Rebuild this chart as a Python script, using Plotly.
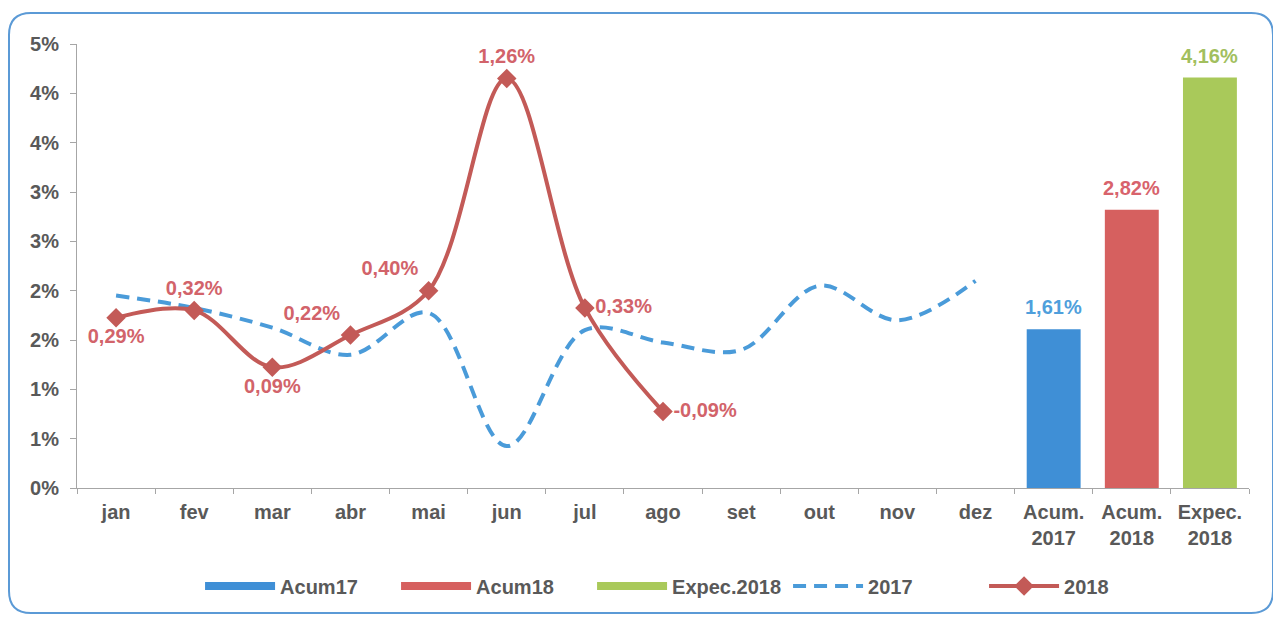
import plotly.graph_objects as go

# ---------------- data ----------------
categories = ["jan", "fev", "mar", "abr", "mai", "jun", "jul", "ago", "set", "out", "nov", "dez",
              "Acum.<br>2017", "Acum.<br>2018", "Expec.<br>2018"]
months = categories[:12]
months_2018 = categories[:8]
serie_2017 = [0.38, 0.33, 0.25, 0.14, 0.31, -0.23, 0.24, 0.19, 0.16, 0.42, 0.28, 0.44]
serie_2018 = [0.29, 0.32, 0.09, 0.22, 0.40, 1.26, 0.33, -0.09]
bar_names = ["Acum17", "Acum18", "Expec.2018"]
bar_categories = categories[12:]
bar_values = [1.61, 2.82, 4.16]
y_tickvals = [0, 0.5, 1.0, 1.5, 2.0, 2.5, 3.0, 3.5, 4.0, 4.5]
y_ticktext = ["0%", "1%", "1%", "2%", "2%", "3%", "3%", "4%", "4%", "5%"]
y2_range = [-0.4, 1.4]

# ---------------- style ----------------
FONT = "Liberation Sans, Arial, sans-serif"
FS = 20
GRAY = "#595959"
bar_colors = ["#3f8fd6", "#d6605f", "#a9c95a"]
bar_label_colors = ["#4f9fdc", "#d8636c", "#a2bf5e"]
c2017 = "#4a9bd9"
c2018 = "#c35a57"
label2018 = "#d2636a"
pos_2018 = ["bottom center", "top center", "bottom center", "top left", "top left",
            "top center", "middle right", "middle right"]

fig = go.Figure()

# legend swatches (no data)
for name, col in zip(bar_names, bar_colors):
    fig.add_trace(go.Scatter(x=[None], y=[None], name=name, mode="lines",
                             line=dict(color=col, width=8), legendgroup=name,
                             showlegend=True, hoverinfo="skip"))

# bars on the primary axis
for name, cat, val, col in zip(bar_names, bar_categories, bar_values, bar_colors):
    fig.add_trace(go.Bar(x=[cat], y=[val], name=name, width=0.69,
                         marker=dict(color=col, line=dict(width=0)),
                         showlegend=False, legendgroup=name, hoverinfo="skip"))

# 2017 dashed line (secondary axis)
fig.add_trace(go.Scatter(x=months, y=serie_2017, name="2017", yaxis="y2",
                         mode="lines", line=dict(color=c2017, width=4, dash="13px,8px",
                                                 shape="spline", smoothing=1.0)))
# 2018 line with diamonds and labels (secondary axis)
fig.add_trace(go.Scatter(x=months_2018, y=serie_2018, name="2018", yaxis="y2",
                         mode="lines+markers+text",
                         line=dict(color=c2018, width=4, shape="spline", smoothing=1.0),
                         marker=dict(symbol="diamond", size=15, color=c2018),
                         texttemplate="%{y:.2f}%", textposition=pos_2018,
                         textfont=dict(family=FONT, size=FS, color=label2018, weight="bold"),
                         cliponaxis=False))

# bar data labels
annotations = []
for cat, val, col in zip(bar_categories, bar_values, bar_label_colors):
    annotations.append(dict(x=cat, y=val, xref="x", yref="y", yshift=22, showarrow=False,
                            text=f"{val:.2f}%".replace(".", ","),
                            font=dict(family=FONT, size=FS, color=col, weight="bold")))

# geometry (figure pixel coordinates; page has an 8px body margin)
W, H = 1273, 616
L, R, T, B = 69, 1241, 36, 480
def px(x):
    return (x - L) / (R - L)
def py(y):
    return (B - y) / (B - T)
x0, x1, y0, y1 = px(1), px(1265), py(605), py(5)
rx, ry = 22 / (R - L), 22 / (B - T)
path = (f"M {x0+rx},{y1} L {x1-rx},{y1} Q {x1},{y1} {x1},{y1-ry} "
        f"L {x1},{y0+ry} Q {x1},{y0} {x1-rx},{y0} L {x0+rx},{y0} "
        f"Q {x0},{y0} {x0},{y0+ry} L {x0},{y1-ry} Q {x0},{y1} {x0+rx},{y1} Z")

fig.update_layout(
    width=W, height=H,
    margin=dict(l=L, r=W - R, t=T, b=H - B, autoexpand=False),
    paper_bgcolor="white", plot_bgcolor="white",
    separators=",.",
    barmode="overlay",
    font=dict(family=FONT, size=FS, color=GRAY, weight="bold"),
    xaxis=dict(type="category", categoryorder="array", categoryarray=categories,
               range=[-0.5, 14.5], showgrid=False, showline=True, linecolor="#a6a6a6",
               linewidth=1, ticks="outside", ticklen=5, tickcolor="#a6a6a6",
               tickson="boundaries", tickangle=0, automargin=False, ticklabelstandoff=6,
               tickfont=dict(family=FONT, size=FS, color=GRAY, weight="bold")),
    yaxis=dict(range=[0, 4.5], tickvals=y_tickvals, ticktext=y_ticktext,
               showgrid=False, zeroline=False, showline=True, linecolor="#a6a6a6",
               linewidth=1, ticks="outside", ticklen=6, tickcolor="#a6a6a6",
               automargin=False, ticklabelstandoff=7,
               tickfont=dict(family=FONT, size=FS, color=GRAY, weight="bold")),
    yaxis2=dict(overlaying="y", range=y2_range, visible=False),
    legend=dict(orientation="h", x=0.105, xanchor="left", y=-0.2207, yanchor="middle",
                font=dict(family=FONT, size=FS, color=GRAY, weight="bold"),
                itemwidth=70, entrywidth=111, entrywidthmode="pixels",
                bgcolor="rgba(0,0,0,0)"),
    annotations=annotations,
    shapes=[dict(type="path", xref="paper", yref="paper", path=path,
                 line=dict(color="#5b9ad6", width=2), fillcolor="rgba(0,0,0,0)", layer="below")],
)

fig.write_html("out.html")
